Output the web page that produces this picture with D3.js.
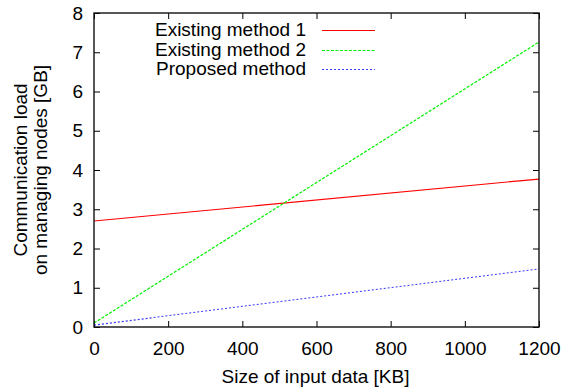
<!DOCTYPE html>
<html>
<head>
<meta charset="utf-8">
<script src="https://cdn.jsdelivr.net/npm/d3@7"></script>
<style>
  html, body { margin: 0; padding: 0; background: #fff; }
  svg { display: block; font-family: "Liberation Sans", Arial, Helvetica, sans-serif; }
</style>
</head>
<body>
<svg id="chart" width="564" height="392"></svg>
<script>
// Input data size [KB] and communication load [GB]
const sizesKB = [0, 1200];
const existing1 = [2.70, 3.77];
const existing2 = [0.10, 7.26];
const proposed = [0.05, 1.48];

const seriesNames = ["Existing method 1", "Existing method 2", "Proposed method"];
const xTicks = [0, 200, 400, 600, 800, 1000, 1200];
const yTicks = [0, 1, 2, 3, 4, 5, 6, 7, 8];

const xTitle = "Size of input data [KB]";
const yTitleLines = ["Communication load", "on managing nodes [GB]"];

const styles = [
  { color: "#ff0000", dash: null },
  { color: "#00f000", dash: "3,1.5" },
  { color: "#3a3aff", dash: "2,2" }
];

const plot = { left: 94, right: 539, top: 13, bottom: 327 };
const svg = d3.select("#chart");

const x = d3.scaleLinear().domain([0, 1200]).range([plot.left, plot.right]);
const y = d3.scaleLinear().domain([0, 8]).range([plot.bottom, plot.top]);

const fontSize = 19;
const tickLen = 6;
const font = "Liberation Sans, Arial, sans-serif";

// Axes with inward ticks; mirrored ticks on top and right
svg.append("g")
  .attr("transform", `translate(0,${plot.bottom})`)
  .call(d3.axisBottom(x).tickValues(xTicks).tickSize(-tickLen).tickPadding(15).tickFormat(d3.format("d")))
  .call(g => g.select(".domain").remove())
  .call(g => g.selectAll("text").attr("font-size", fontSize).attr("fill", "#000").attr("font-family", font));

svg.append("g")
  .attr("transform", `translate(0,${plot.top})`)
  .call(d3.axisTop(x).tickValues(xTicks).tickSize(-tickLen).tickFormat(""))
  .call(g => g.select(".domain").remove());

svg.append("g")
  .attr("transform", `translate(${plot.left},0)`)
  .call(d3.axisLeft(y).tickValues(yTicks).tickSize(-tickLen).tickPadding(11).tickFormat(d3.format("d")))
  .call(g => g.select(".domain").remove())
  .call(g => g.selectAll("text").attr("font-size", fontSize).attr("fill", "#000").attr("font-family", font));

svg.append("g")
  .attr("transform", `translate(${plot.right},0)`)
  .call(d3.axisRight(y).tickValues(yTicks).tickSize(-tickLen).tickFormat(""))
  .call(g => g.select(".domain").remove());

svg.selectAll(".tick line").attr("stroke", "#000").attr("stroke-width", 1);

// Series lines
const seriesData = [existing1, existing2, proposed];
const line = d3.line().x(d => x(d[0])).y(d => y(d[1]));
seriesData.forEach((vals, i) => {
  const pts = sizesKB.map((s, j) => [s, vals[j]]);
  svg.append("path")
    .datum(pts)
    .attr("d", line)
    .attr("fill", "none")
    .attr("stroke", styles[i].color)
    .attr("stroke-width", 1.2)
    .attr("stroke-dasharray", styles[i].dash);
});

// Frame
svg.append("rect")
  .attr("x", plot.left).attr("y", plot.top)
  .attr("width", plot.right - plot.left).attr("height", plot.bottom - plot.top)
  .attr("fill", "none").attr("stroke", "#111").attr("stroke-width", 1.4);

// Legend
const legend = svg.append("g");
seriesNames.forEach((name, i) => {
  const rowY = Math.round(30 + i * 19.5);
  legend.append("text")
    .attr("x", 306).attr("y", rowY + 6)
    .attr("text-anchor", "end")
    .attr("font-size", fontSize)
    .text(name);
  legend.append("line")
    .attr("x1", 322).attr("x2", 375)
    .attr("y1", rowY + 0.5).attr("y2", rowY + 0.5)
    .attr("stroke", styles[i].color)
    .attr("stroke-width", 1.2)
    .attr("stroke-dasharray", styles[i].dash);
});

// Axis titles
svg.append("text")
  .attr("x", (plot.left + plot.right) / 2 - 1).attr("y", 383)
  .attr("text-anchor", "middle")
  .attr("font-size", fontSize)
  .text(xTitle);

const yTitle = svg.append("text")
  .attr("transform", `translate(27,${(plot.top + plot.bottom) / 2}) rotate(-90)`)
  .attr("text-anchor", "middle")
  .attr("font-size", fontSize);
yTitleLines.forEach((t, i) => {
  yTitle.append("tspan").attr("x", 0).attr("dy", i === 0 ? 0 : 20).text(t);
});
</script>
</body>
</html>
